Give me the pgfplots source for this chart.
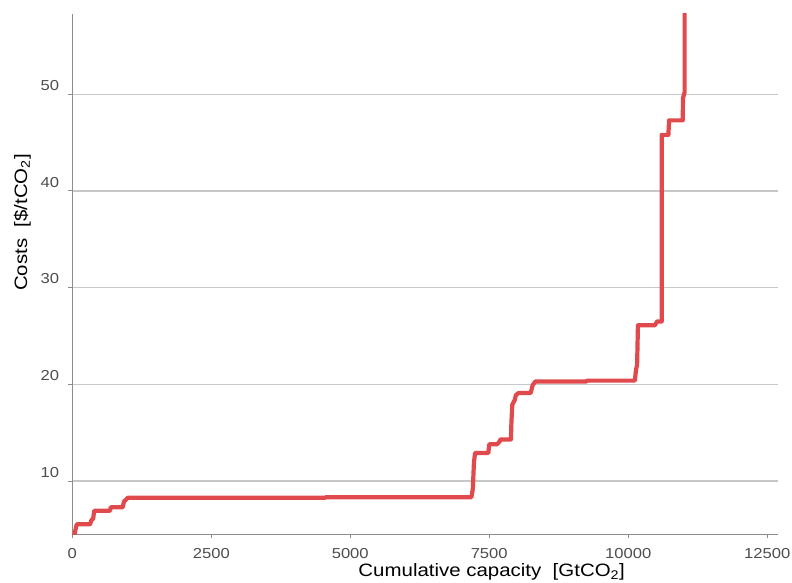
\documentclass[border=0pt]{standalone}
\usepackage{pgfplots}
\pgfplotsset{compat=1.18}
\usepackage{fontspec}
\setmainfont[FakeStretch=1.14]{Liberation Sans}
\newfontfamily\tickfont[FakeStretch=1.15]{Liberation Sans}
\definecolor{curvered}{RGB}{224,74,76}
\definecolor{gridgray}{RGB}{200,200,200}
\definecolor{axisgray}{RGB}{140,140,140}
\definecolor{ticktext}{RGB}{77,77,77}
\begin{document}
\begin{tikzpicture}
\begin{axis}[
  at={(0,0)}, anchor=south west,
  scale only axis,
  width=706bp, height=520bp,
  xmin=0, xmax=12700,
  ymin=4.52, ymax=58.3,
  axis x line*=bottom, axis y line*=left,
  axis line style={-, draw=axisgray, line width=0.9bp},
  xtick={0,2500,5000,7500,10000,12500},
  ytick={10,20,30,40,50},
  scaled x ticks=false,
  tick align=outside,
  major tick length=4bp,
  tick style={draw=axisgray, line width=0.9bp},
  ymajorgrids,
  grid style={draw=gridgray, line width=1.4bp},
  /pgf/number format/assume math mode=true,
  /pgf/number format/1000 sep={},
  xticklabel={\pgfmathprintnumber{\tick}},
  yticklabel={\pgfmathprintnumber{\tick}},
  tick label style={font=\tickfont\fontsize{14.5}{16}\selectfont, text=ticktext},
  yticklabel style={anchor=south east, inner sep=0pt, xshift=-9bp, yshift=3.5bp},
  xticklabel style={anchor=north, inner sep=0pt, yshift=-10.5bp},
  xlabel={Cumulative capacity\ \ [GtCO\textsubscript{2}]},
  ylabel={Costs\ \ [\$/tCO\textsubscript{2}]},
  label style={font=\fontsize{18}{20}\selectfont, inner sep=0pt},
  xlabel style={at={(axis description cs:0.594,0)}, anchor=base, yshift=-42.7bp},
  ylabel style={at={(axis description cs:-0.064,0.599)}, anchor=base},
  clip=true,
]
\addplot[curvered, line width=4.2bp, line join=round] coordinates {
  (20,4.0) (80,5.52) (320,5.52) (345,5.95) (375,6.1) (395,6.93)
  (678,6.93) (690,7.28) (906,7.28) (930,7.86) (1000,8.27)
  (4550,8.27) (4560,8.33) (7180,8.33) (7205,9.2) (7225,11.9) (7245,12.9)
  (7484,12.9) (7500,13.8) (7640,13.8) (7690,14.1) (7700,14.3) (7890,14.3)
  (7900,16.2) (7915,17.9) (7960,18.4) (7980,18.9) (8030,19.1) (8246,19.1)
  (8280,19.9) (8330,20.3) (9250,20.3) (9260,20.38) (10120,20.38)
  (10140,21.5) (10160,22.0) (10175,26.1) (10479,26.1) (10520,26.5)
  (10603,26.5) (10603,45.8) (10723,45.8) (10735,47.3) (10981,47.3)
  (10985,49.6) (11015,50.2) (11015,59.0)
};
\end{axis}
% page frame: the last tick label runs past the right edge
\pgfresetboundingbox
\path[use as bounding box] (-72.3bp,-49bp) rectangle (719.7bp,534bp);
\end{tikzpicture}
\end{document}
